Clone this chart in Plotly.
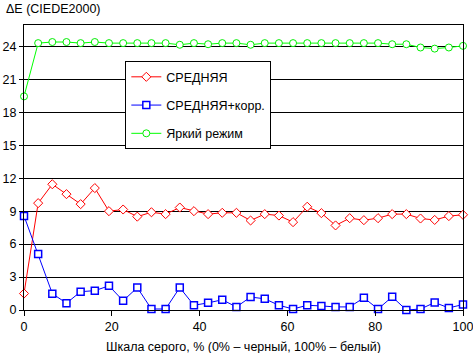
import plotly.graph_objects as go

n = 32
x_vals = [round(i * 100 / 31, 3) for i in range(n)]

red_vals = [1.5, 9.73, 11.45, 10.55, 9.64, 11.1, 9.0, 9.15, 8.5, 8.9, 8.73,
            9.33, 9.0, 8.73, 8.85, 8.85, 8.15, 8.73, 8.6, 8.0, 9.4,
            8.82, 7.7, 8.36, 8.18, 8.36, 8.73, 8.73, 8.33, 8.2, 8.55, 8.67]
blue_vals = [8.57, 5.1, 1.49, 0.62, 1.67, 1.76, 2.2, 0.84, 2.04, 0.09, 0.09,
             2.04, 0.43, 0.65, 0.93, 0.28, 1.18, 1.02, 0.43, 0.09, 0.43,
             0.37, 0.28, 0.28, 1.11, 0.09, 1.2, 0.0, 0.09, 0.68, 0.19, 0.5]
green_vals = [19.45, 24.3, 24.4, 24.4, 24.3, 24.4, 24.3, 24.3, 24.3, 24.3, 24.3,
              24.15, 24.3, 24.2, 24.3, 24.3, 24.15, 24.3, 24.3, 24.3, 24.3,
              24.3, 24.3, 24.3, 24.3, 24.3, 24.2, 24.2, 23.9, 23.8, 23.9, 24.05]

names = ["СРЕДНЯЯ", "СРЕДНЯЯ+корр.", "Яркий режим"]
y_ticks = [0, 3, 6, 9, 12, 15, 18, 21, 24]
x_ticks = [0, 20, 40, 60, 80, 100]

FONT = "Liberation Sans, Arial, sans-serif"

fig = go.Figure()
fig.add_trace(go.Scatter(
    x=x_vals, y=red_vals, name=names[0], mode="lines+markers", legendgroup="a",
    line=dict(color="#ff0000", width=1),
    marker=dict(symbol="diamond", size=7, color="white", line=dict(color="#ff0000", width=1)),
    cliponaxis=False))
fig.add_trace(go.Scatter(
    x=x_vals, y=blue_vals, name=names[1], mode="lines+markers", legendgroup="b",
    line=dict(color="#0000ff", width=1),
    marker=dict(symbol="square", size=7, color="white", line=dict(color="#0000ff", width=1.5)),
    cliponaxis=False))
fig.add_trace(go.Scatter(
    x=x_vals, y=green_vals, name=names[2], mode="lines+markers", legendgroup="c",
    line=dict(color="#00ff00", width=1),
    marker=dict(symbol="circle", size=7, color="white", line=dict(color="#00ee00", width=1)),
    cliponaxis=False))

fig.update_layout(
    width=473, height=353,
    margin=dict(l=24, r=10, t=25, b=43),
    paper_bgcolor="white", plot_bgcolor="white",
    font=dict(family=FONT, size=12, color="black"),
    showlegend=True,
    legend=dict(
        x=0.2308, y=0.873, xanchor="left", yanchor="top",
        bgcolor="white", bordercolor="black", borderwidth=1,
        tracegroupgap=9, font=dict(family=FONT, size=12.5, color="black"),
        entrywidth=152, entrywidthmode="pixels",
    ),
    xaxis=dict(
        range=[0, 100], tickvals=x_ticks, ticks="outside", ticklen=5, tickcolor="black",
        showgrid=False, zeroline=False, showline=True, linecolor="black", linewidth=1, mirror=True,
        tickfont=dict(family=FONT, size=12.5, color="black"), automargin=False,
        ticklabeloverflow="allow",
    ),
    yaxis=dict(
        range=[0, 25.95], tickvals=y_ticks, ticks="outside", ticklen=4, tickcolor="black",
        showgrid=True, gridcolor="black", gridwidth=1, zeroline=False,
        showline=True, linecolor="black", linewidth=1, mirror=True,
        tickfont=dict(family=FONT, size=12.5, color="black"), automargin=False,
        ticklabeloverflow="allow",
    ),
    annotations=[
        dict(text="ΔE (CIEDE2000)", xref="paper", yref="paper", x=-0.0456, y=1.055,
             xanchor="left", yanchor="middle", showarrow=False,
             font=dict(family=FONT, size=12.5, color="black")),
        dict(text="Шкала серого, % (0% – черный, 100% – белый)", xref="paper", yref="paper",
             x=0.5, y=-0.13, xanchor="center", yanchor="middle", showarrow=False,
             font=dict(family=FONT, size=12.5, color="black")),
    ],
)

fig.write_html("out.html")
